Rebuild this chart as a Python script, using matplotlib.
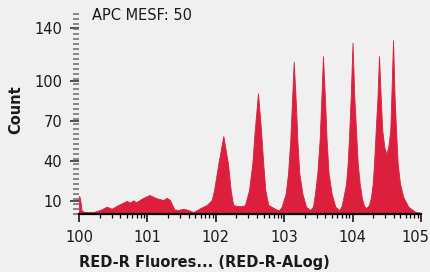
import numpy as np
import matplotlib
matplotlib.use("Agg")
import matplotlib.pyplot as plt
from matplotlib.transforms import ScaledTranslation

# histogram outline, x in decades (log10 of RED-R-A), y in counts
decades = [
    0.000, 0.015, 0.037, 0.073, 0.209, 0.307, 0.405, 0.478, 0.575, 0.697,
    0.746, 0.794, 0.833, 0.917, 1.028, 1.136, 1.232, 1.282, 1.330, 1.393,
    1.452, 1.525, 1.598, 1.671, 1.769, 1.867, 1.940, 1.974, 2.037, 2.110,
    2.178, 2.218, 2.241, 2.256, 2.310, 2.398, 2.427, 2.485, 2.534, 2.569,
    2.617, 2.661, 2.694, 2.724, 2.768, 2.890, 2.924, 2.963, 3.022, 3.056,
    3.089, 3.110, 3.139, 3.173, 3.192, 3.221, 3.265, 3.319, 3.377, 3.421,
    3.450, 3.484, 3.518, 3.538, 3.567, 3.601, 3.620, 3.649, 3.693, 3.747,
    3.806, 3.838, 3.867, 3.904, 3.928, 3.952, 3.972, 3.999, 4.025, 4.050,
    4.075, 4.104, 4.133, 4.162, 4.196, 4.240, 4.269, 4.294, 4.313, 4.338,
    4.364, 4.386, 4.411, 4.434, 4.463, 4.493, 4.522, 4.551, 4.566, 4.591,
    4.614, 4.635, 4.659, 4.693, 4.741, 4.814, 4.912, 5.000,
]
counts = [
    13.9, 12.0, 3.0, 1.8, 1.7, 3.2, 5.7, 4.2, 7.0, 10.0,
    8.8, 10.5, 9.0, 11.7, 14.5, 12.0, 10.7, 12.4, 10.7, 3.7,
    3.2, 4.2, 3.2, 1.7, 4.5, 7.0, 10.7, 18.0, 38.0, 58.7,
    38.0, 18.0, 10.7, 7.0, 6.2, 6.2, 7.0, 18.0, 38.0, 63.0,
    90.8, 63.0, 38.0, 18.0, 7.0, 3.5, 3.0, 5.7, 15.7, 30.7,
    55.7, 80.7, 114.5, 80.7, 55.7, 30.7, 15.7, 5.7, 3.2, 5.7,
    15.7, 30.7, 55.7, 80.7, 118.7, 80.7, 55.7, 30.7, 15.7, 5.7,
    3.2, 6.0, 13.0, 23.0, 38.0, 63.0, 88.0, 128.7, 88.0, 63.0,
    38.0, 23.0, 13.0, 7.0, 4.5, 7.0, 13.0, 23.0, 38.0, 63.0,
    88.0, 118.7, 88.0, 63.0, 50.7, 45.0, 50.7, 63.0, 88.0, 130.7,
    88.0, 63.0, 38.0, 23.0, 13.0, 5.7, 2.0, 1.0,
]

x_major = [0, 1, 2, 3, 4, 5]
x_labels = ["100", "101", "102", "103", "104", "105"]
y_major = [10, 40, 70, 100, 140]
annotation = "APC MESF: 50"
x_title = "RED-R Fluores... (RED-R-ALog)"
y_title = "Count"

BG = "#f0f0f0"
FILL = "#db1f3d"
TXT = "#1a1a1a"

fig = plt.figure(figsize=(4.30, 2.72), dpi=100, facecolor=BG)
ax = fig.add_axes([79 / 430, 57.7 / 272, 342 / 430, 200 / 272])
ax.set_facecolor(BG)

ax.fill_between(decades, counts, 0, color=FILL, linewidth=0.6, edgecolor=FILL)

ax.set_xlim(0, 5)
ax.set_ylim(0, 150)

for side in ["top", "right", "left"]:
    ax.spines[side].set_visible(False)
ax.spines["bottom"].set_linewidth(1.6)
ax.spines["bottom"].set_color("black")

# x: log-style decade ticks
ax.set_xticks(x_major)
ax.set_xticklabels(x_labels)
minor_x = [k + np.log10(m) for k in range(5) for m in range(2, 10)]
ax.set_xticks(minor_x, minor=True)
ax.tick_params(axis="x", which="major", direction="out", length=5.5, width=1.1,
               color="black", pad=6, labelsize=10.5, labelcolor=TXT)
ax.tick_params(axis="x", which="minor", direction="out", length=3, width=0.9,
               color="black")
# last label is nudged left so it stays inside the figure
last = ax.get_xticklabels()[-1]
last.set_transform(last.get_transform() + ScaledTranslation(-6 / 100, 0, fig.dpi_scale_trans))

# y: plain ticks, dense minor ticks, no spine
ax.set_yticks(y_major)
ax.set_yticks(np.arange(0, 150.1, 3.75), minor=True)
ax.tick_params(axis="y", which="major", direction="out", length=6.5, width=1.2,
               color="#333333", pad=5.5, labelsize=10.5, labelcolor=TXT)
ax.tick_params(axis="y", which="minor", direction="out", length=4.5, width=1.1,
               color="#6a6a6a")

fig.text(92 / 430, 1 - 16 / 272, annotation, ha="left", va="center",
         fontsize=10.5, color=TXT)
fig.text(204 / 430, 1 - 262 / 272, x_title, ha="center", va="center",
         fontsize=10.5, fontweight="bold", color=TXT)
fig.text(16 / 430, 1 - 110 / 272, y_title, ha="center", va="center",
         rotation=90, fontsize=10.5, fontweight="bold", color=TXT)

fig.savefig("out.png", dpi=100, facecolor=BG)
